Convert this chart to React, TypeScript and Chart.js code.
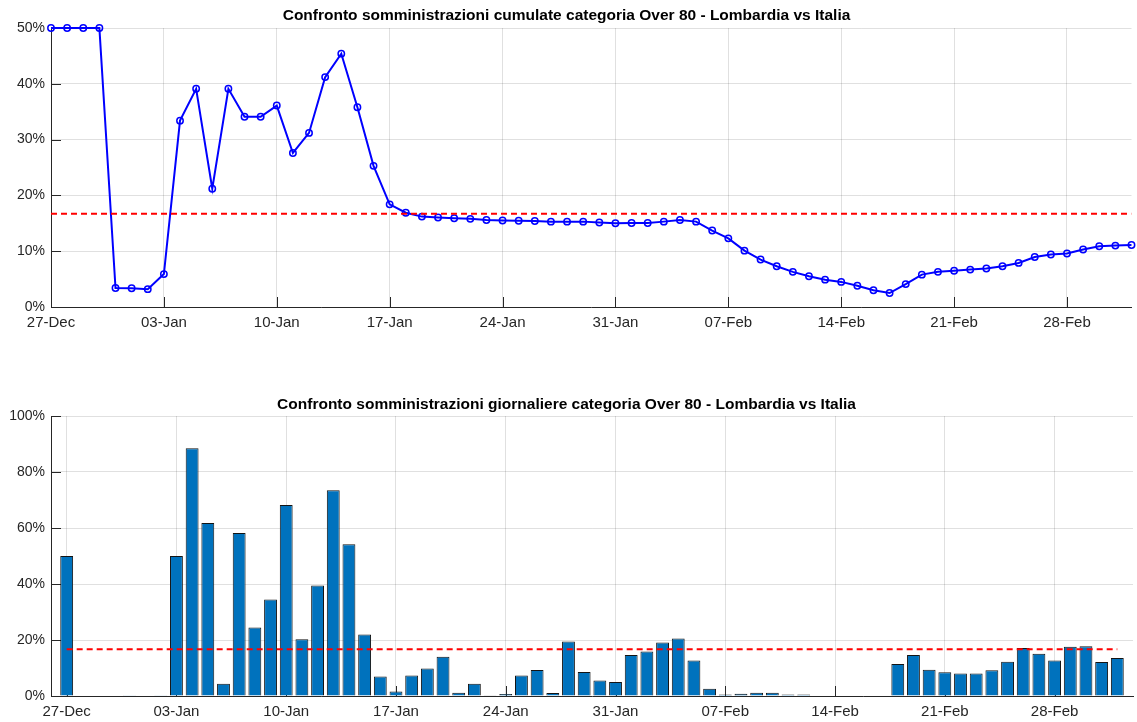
import React, { useEffect, useRef } from "react";
import { Chart, registerables } from "chart.js";

Chart.register(...registerables);

const dates = [
  "27-Dec", "28-Dec", "29-Dec", "30-Dec", "31-Dec",
  "01-Jan", "02-Jan", "03-Jan", "04-Jan", "05-Jan", "06-Jan", "07-Jan", "08-Jan", "09-Jan", "10-Jan",
  "11-Jan", "12-Jan", "13-Jan", "14-Jan", "15-Jan", "16-Jan", "17-Jan", "18-Jan", "19-Jan", "20-Jan",
  "21-Jan", "22-Jan", "23-Jan", "24-Jan", "25-Jan", "26-Jan", "27-Jan", "28-Jan", "29-Jan", "30-Jan", "31-Jan",
  "01-Feb", "02-Feb", "03-Feb", "04-Feb", "05-Feb", "06-Feb", "07-Feb", "08-Feb", "09-Feb", "10-Feb",
  "11-Feb", "12-Feb", "13-Feb", "14-Feb", "15-Feb", "16-Feb", "17-Feb", "18-Feb", "19-Feb", "20-Feb",
  "21-Feb", "22-Feb", "23-Feb", "24-Feb", "25-Feb", "26-Feb", "27-Feb", "28-Feb",
  "01-Mar", "02-Mar", "03-Mar", "04-Mar",
];

const cumulativeShare = [
  50, 50, 50, 50, 3.4,
  3.35, 3.2, 5.9, 33.4, 39.1, 21.2, 39.1, 34.1, 34.1, 36.1,
  27.6, 31.2, 41.2, 45.4, 35.8, 25.3, 18.4, 16.9, 16.2, 16.05,
  15.9, 15.8, 15.6, 15.5, 15.45, 15.4, 15.3, 15.3, 15.3, 15.15, 15.0,
  15.05, 15.05, 15.3, 15.6, 15.3, 13.7, 12.3, 10.1, 8.5, 7.3,
  6.3, 5.5, 4.9, 4.5, 3.8, 3.0, 2.5, 4.1, 5.8, 6.3,
  6.5, 6.7, 6.9, 7.3, 7.9, 8.95, 9.4, 9.6,
  10.3, 10.9, 11.0, 11.1,
];

const dailyShare = [
  50, 0, 0, 0, 0.3,
  0, 0.3, 50, 88.5, 61.8, 4.4, 58.2, 24.5, 34.5, 68.2,
  20.3, 39.5, 73.5, 54.2, 22.0, 7.0, 1.6, 7.3, 9.8, 14.0,
  1.2, 4.4, 0.1, 0.7, 7.3, 9.3, 1.1, 19.5, 8.6, 5.5, 5.0,
  14.6, 15.9, 19.1, 20.5, 12.7, 2.6, 0.5, 0.8, 1.2, 1.2,
  0.5, 0.5, 0.2, 0.2, 0.2, 0.2, 0.2, 11.4, 14.6, 9.4,
  8.5, 8.0, 8.0, 9.2, 12.2, 17.1, 15.1, 12.7,
  17.6, 17.8, 12.1, 13.6,
];

const referenceShare = 16.7;

const tickLabels = ["27-Dec", "03-Jan", "10-Jan", "17-Jan", "24-Jan", "31-Jan", "07-Feb", "14-Feb", "21-Feb", "28-Feb"];

const cumTicks = [0, 10, 20, 30, 40, 50];
const dailyTicks = [0, 20, 40, 60, 80, 100];

const titleTop = "Confronto somministrazioni cumulate categoria Over 80 - Lombardia vs Italia";
const titleBottom = "Confronto somministrazioni giornaliere categoria Over 80 - Lombardia vs Italia";

const FONT = "'Liberation Sans', Arial, Helvetica, sans-serif";
const TEXT = "#262626";
const GRID = "rgba(0,0,0,0.12)";

const innerTicks = {
  id: "innerTicks",
  beforeDatasetsDraw(chart: any) {
    const { ctx, chartArea, scales } = chart;
    ctx.save();
    ctx.strokeStyle = TEXT;
    ctx.lineWidth = 1;
    scales.x.ticks.forEach((t: any) => {
      const px = Math.round(scales.x.getPixelForValue(t.value)) + 0.5;
      ctx.beginPath();
      ctx.moveTo(px, chartArea.bottom);
      ctx.lineTo(px, chartArea.bottom - 10);
      ctx.stroke();
    });
    scales.y.ticks.forEach((t: any) => {
      const py = Math.round(scales.y.getPixelForValue(t.value)) + 0.5;
      ctx.beginPath();
      ctx.moveTo(chartArea.left, py);
      ctx.lineTo(chartArea.left + 10, py);
      ctx.stroke();
    });
    ctx.restore();
  },
};

function xScale(min: number, max: number, height: number) {
  return {
    type: "linear",
    min,
    max,
    offset: false,
    afterBuildTicks: (scale: any) => {
      scale.ticks = tickLabels.map((l) => ({ value: dates.indexOf(l) }));
    },
    afterFit: (scale: any) => {
      scale.height = height;
    },
    ticks: {
      autoSkip: false,
      maxRotation: 0,
      color: TEXT,
      font: { size: 15, family: FONT },
      padding: 7,
      callback: (v: any) => dates[v] ?? "",
    },
    grid: { color: GRID, drawTicks: false, offset: false },
    border: { display: true, color: TEXT, width: 1 },
  };
}

function yScale(vals: number[]) {
  return {
    min: vals[0],
    max: vals[vals.length - 1],
    afterBuildTicks: (scale: any) => {
      scale.ticks = vals.map((v) => ({ value: v }));
    },
    afterFit: (scale: any) => {
      scale.width = 51;
    },
    ticks: {
      color: TEXT,
      font: { size: 14, family: FONT },
      padding: 6,
      callback: (v: any) => v + "%",
    },
    grid: { color: GRID, drawTicks: false },
    border: { display: true, color: TEXT, width: 1 },
  };
}

function titleOpt(text: string, top: number) {
  return {
    display: true,
    text,
    color: "#000",
    font: { size: 15.5, weight: "bold", family: FONT, lineHeight: "16px" },
    padding: { top, bottom: 28 - 16 - top },
  };
}

function TopChart() {
  const ref = useRef<HTMLCanvasElement>(null);
  useEffect(() => {
    const chart = new Chart(ref.current!, {
      type: "line",
      data: {
        datasets: [
          {
            data: cumulativeShare.map((y, i) => ({ x: i, y })),
            borderColor: "#0000ff",
            borderWidth: 2,
            pointRadius: 3.2,
            pointBorderWidth: 1.5,
            pointBorderColor: "#0000ff",
            pointBackgroundColor: "rgba(0,0,0,0)",
            clip: false,
            order: 1,
          },
          {
            data: dates.map((_, i) => ({ x: i, y: referenceShare })),
            borderColor: "#ff0000",
            borderWidth: 2,
            borderDash: [6, 4],
            pointRadius: 0,
            order: 0,
          },
        ],
      } as any,
      options: {
        animation: false,
        responsive: false,
        layout: { padding: { left: 0, right: 4, top: 0, bottom: 0 } },
        plugins: {
          legend: { display: false },
          tooltip: { enabled: false },
          title: titleOpt(titleTop, 8) as any,
        },
        scales: {
          x: xScale(0, dates.length - 1, 33) as any,
          y: yScale(cumTicks) as any,
        },
      },
      plugins: [innerTicks],
    });
    return () => chart.destroy();
  }, []);
  return <canvas ref={ref} width={1137} height={340} style={{ position: "absolute", left: 0, top: 0 }} />;
}

function BottomChart() {
  const ref = useRef<HTMLCanvasElement>(null);
  useEffect(() => {
    const chart = new Chart(ref.current!, {
      type: "bar",
      data: {
        datasets: [
          {
            type: "line",
            data: dates.map((_, i) => ({ x: i, y: referenceShare })),
            borderColor: "#ff0000",
            borderWidth: 2,
            borderDash: [6, 4],
            pointRadius: 0,
            order: 0,
          },
          {
            type: "bar",
            data: dailyShare.map((y, i) => ({ x: i, y })),
            backgroundColor: "#0072BD",
            borderColor: "#141414",
            borderWidth: 1,
            barPercentage: 0.82,
            categoryPercentage: 1,
            order: 1,
          },
        ],
      } as any,
      options: {
        animation: false,
        responsive: false,
        layout: { padding: { left: 0, right: 4, top: 0, bottom: 0 } },
        plugins: {
          legend: { display: false },
          tooltip: { enabled: false },
          title: titleOpt(titleBottom, 9) as any,
        },
        scales: {
          x: xScale(-1, dates.length, 26) as any,
          y: yScale(dailyTicks) as any,
        },
      },
      plugins: [innerTicks],
    });
    return () => chart.destroy();
  }, []);
  return <canvas ref={ref} width={1137} height={334} style={{ position: "absolute", left: 0, top: 388 }} />;
}

export default function App() {
  return (
    <div style={{ position: "absolute", left: 0, top: 0, width: 1137, height: 722, background: "#fff" }}>
      <TopChart />
      <BottomChart />
    </div>
  );
}
